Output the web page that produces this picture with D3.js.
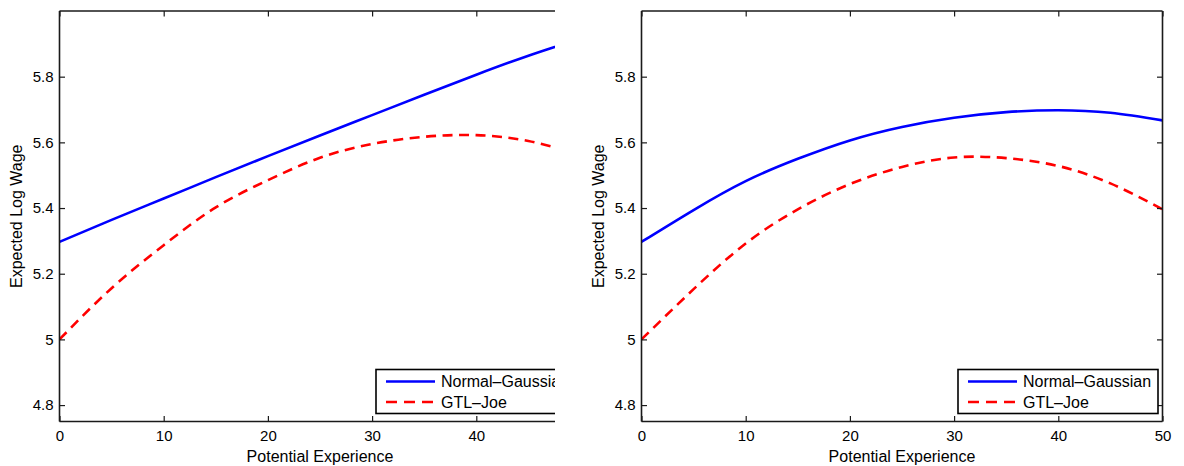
<!DOCTYPE html>
<html>
<head>
<meta charset="utf-8">
<script src="https://cdn.jsdelivr.net/npm/d3@7"></script>
<style>
  html, body { margin: 0; padding: 0; background: #fff; }
  svg { display: block; }
  text { font-family: "Liberation Sans", Arial, Helvetica, sans-serif; fill: #000; }
</style>
</head>
<body>
<svg id="chart" width="1184" height="466"></svg>
<script>
// ---------------- data ----------------
const years = [0, 5, 10, 15, 20, 25, 30, 35, 40, 45, 50];
const leftNormal  = [5.297, 5.364, 5.429, 5.494, 5.558, 5.621, 5.683, 5.745, 5.806, 5.864, 5.916];
const leftGTL     = [5.000, 5.156, 5.287, 5.402, 5.485, 5.553, 5.595, 5.617, 5.622, 5.604, 5.562];
const rightNormal = [5.297, 5.394, 5.482, 5.550, 5.606, 5.647, 5.675, 5.692, 5.698, 5.690, 5.667];
const rightGTL    = [5.000, 5.153, 5.292, 5.396, 5.473, 5.525, 5.554, 5.552, 5.528, 5.475, 5.396];
const seriesNames = ["Normal\u2013Gaussian", "GTL\u2013Joe"];
const xTicks = [0, 10, 20, 30, 40, 50];
const yTicks = [4.8, 5.0, 5.2, 5.4, 5.6, 5.8];
const xDomain = [0, 50];
const yDomain = [4.75, 6.0];
const xLabel = "Potential Experience";
const yLabel = "Expected Log Wage";

// ---------------- layout ----------------
const svg = d3.select("#chart");
const plotTop = 11, plotBottom = 421.5, plotW = 521;
const panels = [
  { x0: 59.5,  clipRight: 555, data: [leftNormal, leftGTL] },
  { x0: 641.5, clipRight: 1184, data: [rightNormal, rightGTL] }
];
const styles = [
  { color: "#0000ff", dash: null },
  { color: "#ff0000", dash: "10,6.5" }
];
const axisColor = "#1a1a1a";
const tickFont = 15, labelFont = 16;

panels.forEach((p, i) => {
  const clipId = "panelclip" + i;
  svg.append("clipPath").attr("id", clipId)
    .append("rect").attr("x", 0).attr("y", 0).attr("width", p.clipRight).attr("height", 466);
  const plotClipId = "plotclip" + i;
  const g = svg.append("g").attr("clip-path", `url(#${clipId})`);

  const x = d3.scaleLinear().domain(xDomain).range([p.x0, p.x0 + plotW]);
  const y = d3.scaleLinear().domain(yDomain).range([plotBottom, plotTop]);

  svg.append("clipPath").attr("id", plotClipId)
    .append("rect").attr("x", p.x0).attr("y", plotTop).attr("width", plotW).attr("height", plotBottom - plotTop);

  // lines
  const line = d3.line().x((d, k) => x(years[k])).y(d => y(d)).curve(d3.curveNatural);
  const lg = g.append("g").attr("clip-path", `url(#${plotClipId})`);
  p.data.forEach((vals, s) => {
    lg.append("path").datum(vals)
      .attr("d", line)
      .attr("fill", "none")
      .attr("stroke", styles[s].color)
      .attr("stroke-width", 2.6)
      .attr("stroke-dasharray", styles[s].dash);
  });

  // axes (MATLAB style box with inward ticks)
  const fmt = d => String(+d.toFixed(1));
  const bAxis = d3.axisBottom(x).tickValues(xTicks).tickSize(-5.5).tickPadding(8.5).tickFormat(fmt);
  const tAxis = d3.axisTop(x).tickValues(xTicks).tickSize(-5.5).tickFormat("");
  const lAxis = d3.axisLeft(y).tickValues(yTicks).tickSize(-5.5).tickPadding(6).tickFormat(fmt);
  const rAxis = d3.axisRight(y).tickValues(yTicks).tickSize(-5.5).tickFormat("");

  const styleAxis = sel => {
    sel.select(".domain").attr("stroke", axisColor).attr("stroke-width", 1.6);
    sel.selectAll(".tick line").attr("stroke", axisColor).attr("stroke-width", 1.2);
    sel.selectAll(".tick text").attr("font-size", tickFont).attr("fill", "#000")
      .style("font-family", '"Liberation Sans", Arial, sans-serif');
  };
  g.append("g").attr("transform", `translate(0,${plotBottom})`).call(bAxis).call(styleAxis)
    .call(s => s.select(".domain").attr("d", `M${p.x0},0H${p.x0 + plotW}`));
  g.append("g").attr("transform", `translate(0,${plotTop})`).call(tAxis).call(styleAxis)
    .call(s => s.select(".domain").attr("d", `M${p.x0},0H${p.x0 + plotW}`));
  g.append("g").attr("transform", `translate(${p.x0},0)`).call(lAxis).call(styleAxis)
    .call(s => s.select(".domain").attr("d", `M0,${plotTop}V${plotBottom}`));
  g.append("g").attr("transform", `translate(${p.x0 + plotW},0)`).call(rAxis).call(styleAxis)
    .call(s => s.select(".domain").attr("d", `M0,${plotTop}V${plotBottom}`));

  // axis labels
  g.append("text")
    .attr("x", p.x0 + plotW / 2).attr("y", 461.5)
    .attr("text-anchor", "middle").attr("font-size", labelFont)
    .text(xLabel);
  g.append("text")
    .attr("transform", `translate(${p.x0 - 38},${(plotTop + plotBottom) / 2}) rotate(-90)`)
    .attr("text-anchor", "middle").attr("font-size", labelFont)
    .text(yLabel);

  // legend
  const lx = p.x0 + 316.5, ly = 369.5, lw = 200, lh = 44;
  const leg = g.append("g");
  leg.append("rect").attr("x", lx).attr("y", ly).attr("width", lw).attr("height", lh)
    .attr("fill", "#fff").attr("stroke", "#000").attr("stroke-width", 1.6);
  seriesNames.forEach((name, s) => {
    const ry = ly + 12 + s * 20.5;
    leg.append("line")
      .attr("x1", lx + 10).attr("x2", lx + 59).attr("y1", ry).attr("y2", ry)
      .attr("stroke", styles[s].color).attr("stroke-width", 2.6)
      .attr("stroke-dasharray", styles[s].dash ? "11,7" : null);
    leg.append("text").attr("x", lx + 65).attr("y", ry + 5.5)
      .attr("font-size", labelFont).text(name);
  });
});
</script>
</body>
</html>
